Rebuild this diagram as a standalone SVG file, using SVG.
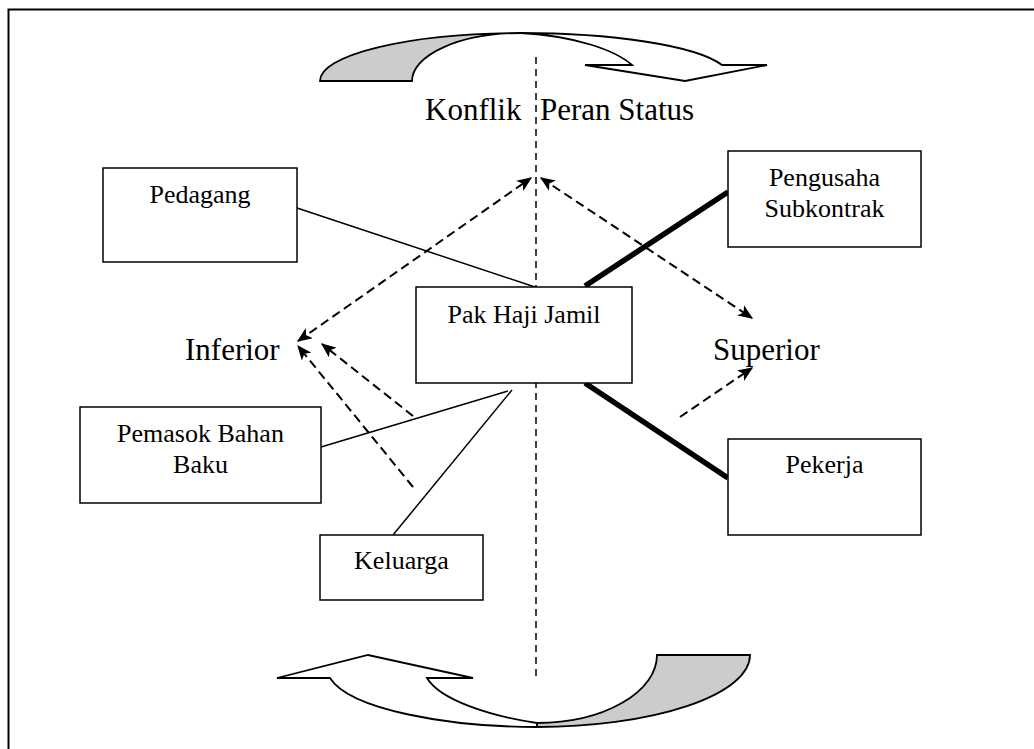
<svg xmlns="http://www.w3.org/2000/svg" width="1034" height="749" viewBox="0 0 1034 749">
  <style>
    .box { fill: #ffffff; stroke: #000000; stroke-width: 1.5; }
    .lbl { font-family: "Liberation Serif", "Times New Roman", serif; font-size: 26px; fill: #000000; text-anchor: middle; }
    .big { font-family: "Liberation Serif", "Times New Roman", serif; font-size: 31px; fill: #000000; }
    .thin { stroke: #000000; stroke-width: 1.5; fill: none; }
    .thick { stroke: #000000; stroke-width: 5.5; fill: none; }
    .dash { stroke: #000000; stroke-width: 2; stroke-dasharray: 9 5; fill: none; }
    .axis { stroke: #000000; stroke-width: 1.5; stroke-dasharray: 7 5; fill: none; }
    .band { stroke: #000000; stroke-width: 1.8; stroke-linejoin: miter; }
  </style>
  <defs>
    <marker id="head" viewBox="0 0 12 10" refX="11" refY="5" markerWidth="15" markerHeight="12.5" markerUnits="userSpaceOnUse" orient="auto-start-reverse">
      <path d="M0,0 L12,5 L0,10 L3,5 Z" fill="#000000"/>
    </marker>
  </defs>

  <!-- page frame -->
  <rect x="8.5" y="9.5" width="1040" height="760" fill="none" stroke="#000000" stroke-width="2"/>

  <!-- curved arrow, top -->
  <g id="arrow-top">
    <path class="band" fill="#cccccc" d="M320,81 A201,48 0 0 1 521,33 A109,48 0 0 0 412,81 Z"/>
    <path class="band" fill="#ffffff" d="M521,33 C610,33 695,45 722,65 L767,65 L685,81 L585,65 L632,65 C615,50 575,36 521,33 Z"/>
  </g>

  <!-- curved arrow, bottom -->
  <g id="arrow-bottom">
    <path class="band" fill="#cccccc" d="M657,655 L750,655 A213,72 0 0 1 537,727 L537,723 A120,68 0 0 0 657,655 Z"/>
    <path class="band" fill="#ffffff" d="M537,727 C450,727 350,710 330,678 L277,678 L368,655 L473,678 L427,678 C440,700 490,716 537,723 Z"/>
  </g>

  <!-- connectors -->
  <g id="connectors">
    <line class="axis" x1="536" y1="57" x2="536" y2="678"/>
    <line class="thin" x1="297" y1="208" x2="535" y2="287"/>
    <line class="thick" x1="585" y1="286" x2="728" y2="192"/>
    <line class="thick" x1="585" y1="383" x2="728" y2="478"/>
    <line class="thin" x1="321" y1="447" x2="508" y2="391"/>
    <line class="thin" x1="393" y1="535" x2="512" y2="390"/>
    <line class="dash" x1="298" y1="341" x2="531" y2="178" marker-start="url(#head)" marker-end="url(#head)"/>
    <line class="dash" x1="541" y1="178" x2="752" y2="318" marker-start="url(#head)" marker-end="url(#head)"/>
    <line class="dash" x1="413" y1="416" x2="322" y2="344" marker-end="url(#head)"/>
    <line class="dash" x1="413" y1="487" x2="298" y2="346" marker-end="url(#head)"/>
    <line class="dash" x1="680" y1="417" x2="752" y2="368" marker-end="url(#head)"/>
  </g>

  <!-- free labels -->
  <g id="konflik">
    <text class="big" x="425" y="120">Konflik<tspan x="540">Peran Status</tspan></text>
  </g>
  <g id="inferior">
    <text class="big" x="185" y="360">Inferior</text>
  </g>
  <g id="superior">
    <text class="big" x="713" y="360">Superior</text>
  </g>

  <!-- nodes -->
  <g id="pedagang">
    <rect class="box" x="103" y="168" width="194" height="94"/>
    <text class="lbl" x="200" y="203">Pedagang</text>
  </g>
  <g id="pengusaha">
    <rect class="box" x="728" y="151" width="193" height="96"/>
    <text class="lbl" x="824.5" y="186">Pengusaha</text>
    <text class="lbl" x="824.5" y="217">Subkontrak</text>
  </g>
  <g id="pak-haji-jamil">
    <rect class="box" x="416" y="287" width="216" height="96"/>
    <text class="lbl" x="524" y="323">Pak Haji Jamil</text>
  </g>
  <g id="pemasok">
    <rect class="box" x="80" y="407" width="241" height="96"/>
    <text class="lbl" x="200.5" y="442">Pemasok Bahan</text>
    <text class="lbl" x="200.5" y="473">Baku</text>
  </g>
  <g id="pekerja">
    <rect class="box" x="728" y="439" width="193" height="96"/>
    <text class="lbl" x="824.5" y="473">Pekerja</text>
  </g>
  <g id="keluarga">
    <rect class="box" x="320" y="535" width="163" height="65"/>
    <text class="lbl" x="401.5" y="569">Keluarga</text>
  </g>
</svg>
